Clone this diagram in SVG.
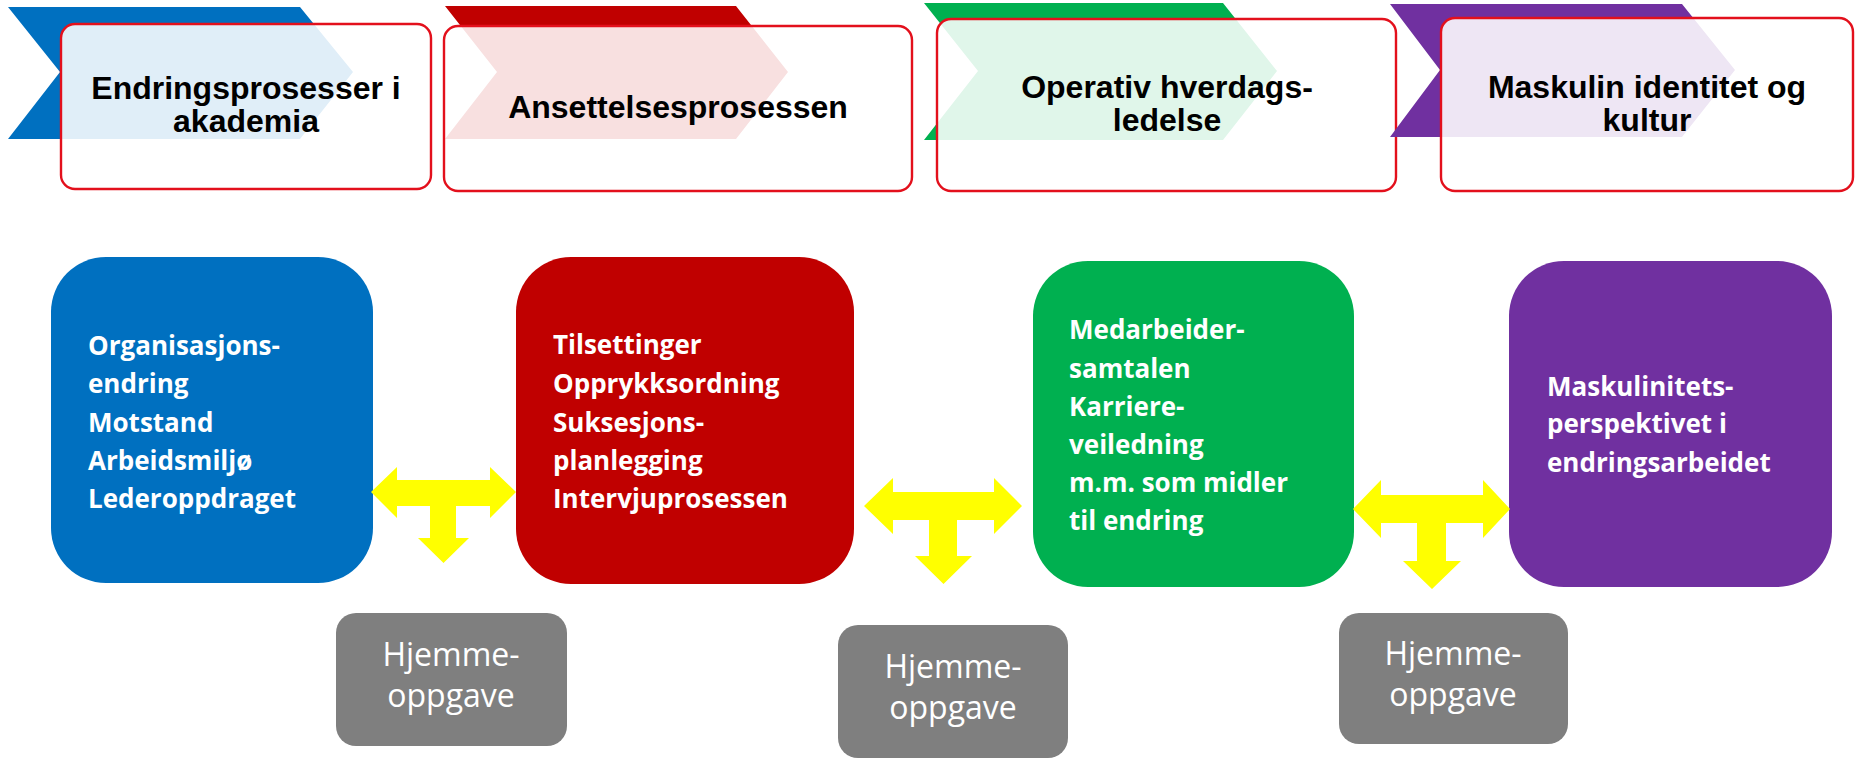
<svg xmlns="http://www.w3.org/2000/svg" width="1856" height="758" viewBox="0 0 1856 758">
<style>
.frame{fill:#ffffff;fill-opacity:0.88;stroke:#e3101c;stroke-width:2.4}
.title{font-family:"Liberation Sans",Arial,sans-serif;font-weight:bold;font-size:32px;fill:#000;text-anchor:middle}
.body{font-family:"Open Sans",Lato,sans-serif;font-weight:bold;font-size:26px;fill:#fff}
.hw{font-family:"Open Sans",sans-serif;font-size:32px;fill:#fff;text-anchor:middle}
.arrow{fill:#ffff00}
.gray{fill:#7f7f7f}
</style>
<rect width="1856" height="758" fill="#ffffff"/>
<g id="top1">
<polygon points="8,7 300,7 353,72 300,139 8,139 60,72" fill="#0070c0"/>
<rect class="frame" x="61" y="24" width="370" height="165" rx="14"/>
<text class="title" x="246" y="99">Endringsprosesser i</text>
<text class="title" x="246" y="132">akademia</text>
</g>
<g id="top2">
<polygon points="445,6 736,6 788,72 736,139 445,139 497,72" fill="#c00000"/>
<rect class="frame" x="444" y="26" width="468" height="165" rx="14"/>
<text class="title" x="678" y="118">Ansettelsesprosessen</text>
</g>
<g id="top3">
<polygon points="924,3 1223,3 1277,71 1223,140 924,140 978,71" fill="#00b050"/>
<rect class="frame" x="937" y="19" width="459" height="172" rx="14"/>
<text class="title" x="1167" y="98">Operativ hverdags-</text>
<text class="title" x="1167" y="131">ledelse</text>
</g>
<g id="top4">
<polygon points="1390,4 1682,4 1735,70 1682,137 1390,137 1440,70" fill="#7030a0"/>
<rect class="frame" x="1441" y="18" width="412" height="173" rx="14"/>
<text class="title" x="1647" y="98">Maskulin identitet og</text>
<text class="title" x="1647" y="131">kultur</text>
</g>
<g id="box-blue">
<rect x="51" y="257" width="322" height="326" rx="55" fill="#0070c0"/>
<text class="body" x="88" y="355">Organisasjons-</text>
<text class="body" x="88" y="393">endring</text>
<text class="body" x="88" y="432">Motstand</text>
<text class="body" x="88" y="470">Arbeidsmiljø</text>
<text class="body" x="88" y="508">Lederoppdraget</text>
</g>
<g id="box-red">
<rect x="516" y="257" width="338" height="327" rx="55" fill="#c00000"/>
<text class="body" x="553" y="354">Tilsettinger</text>
<text class="body" x="553" y="393">Opprykksordning</text>
<text class="body" x="553" y="432">Suksesjons-</text>
<text class="body" x="553" y="470">planlegging</text>
<text class="body" x="553" y="508">Intervjuprosessen</text>
</g>
<g id="box-green">
<rect x="1033" y="261" width="321" height="326" rx="55" fill="#00b050"/>
<text class="body" x="1069" y="339">Medarbeider-</text>
<text class="body" x="1069" y="378">samtalen</text>
<text class="body" x="1069" y="416">Karriere-</text>
<text class="body" x="1069" y="454">veiledning</text>
<text class="body" x="1069" y="492">m.m. som midler</text>
<text class="body" x="1069" y="530">til endring</text>
</g>
<g id="box-purple">
<rect x="1509" y="261" width="323" height="326" rx="55" fill="#7030a0"/>
<text class="body" x="1547" y="396">Maskulinitets-</text>
<text class="body" x="1547" y="433">perspektivet i</text>
<text class="body" x="1547" y="472">endringsarbeidet</text>
</g>
<g id="connectors">
<polygon class="arrow" points="371,492 397,467 397,480 490,480 490,467 516,492 490,518 490,506 456,506 456,538 469,538 443.5,563 418,538 430,538 430,506 397,506 397,518"/>
<polygon class="arrow" points="864,506 893,478 893,492 994,492 994,478 1022,506 994,534 994,520 957,520 957,556 972,556 943.5,584 915,556 929,556 929,520 893,520 893,534"/>
<polygon class="arrow" points="1353,509 1381,480 1381,495 1483,495 1483,480 1510,509 1483,538 1483,523 1446,523 1446,561 1461,561 1432,589 1403,561 1417,561 1417,523 1381,523 1381,538"/>
</g>
<g id="hw1">
<rect class="gray" x="336" y="613" width="231" height="133" rx="20"/>
<text class="hw" x="451" y="666">Hjemme-</text>
<text class="hw" x="451" y="707">oppgave</text>
</g>
<g id="hw2">
<rect class="gray" x="838" y="625" width="230" height="133" rx="20"/>
<text class="hw" x="953" y="678">Hjemme-</text>
<text class="hw" x="953" y="719">oppgave</text>
</g>
<g id="hw3">
<rect class="gray" x="1339" y="613" width="229" height="131" rx="20"/>
<text class="hw" x="1453" y="665">Hjemme-</text>
<text class="hw" x="1453" y="706">oppgave</text>
</g>
</svg>
